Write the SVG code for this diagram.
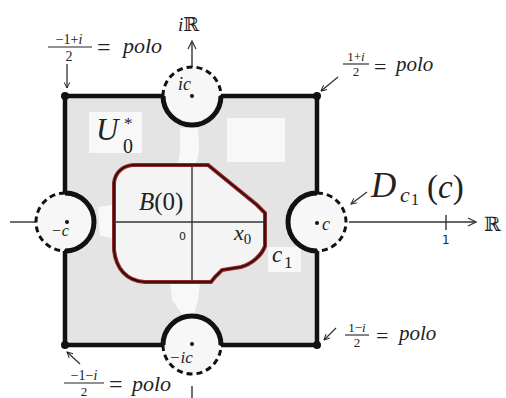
<svg xmlns="http://www.w3.org/2000/svg" width="506" height="398" viewBox="0 0 506 398">
<defs>
<marker id="ah" viewBox="0 0 10 10" refX="9" refY="5" markerWidth="7" markerHeight="7" orient="auto" markerUnits="userSpaceOnUse">
<path d="M1,1 L9,5 L1,9" fill="none" stroke="#222" stroke-width="1.4"/>
</marker>
<marker id="ahb" viewBox="0 0 10 10" refX="9" refY="5" markerWidth="10" markerHeight="10" orient="auto" markerUnits="userSpaceOnUse">
<path d="M1,1 L9,5 L1,9" fill="none" stroke="#333" stroke-width="1.2"/>
</marker>
</defs>
<style>
.m{font-family:"Liberation Serif","DejaVu Serif",serif;font-style:italic;fill:#222}
.r{font-family:"Liberation Serif","DejaVu Serif",serif;fill:#222}
.s{font-family:"DejaVu Sans","Liberation Sans",sans-serif;fill:#222}
.bb{font-family:"DejaVu Serif",serif;fill:#222}
.edge{stroke:#111;stroke-width:4.5;fill:none}
.arc{stroke:#111;stroke-width:5;fill:none}
.dash{stroke:#111;stroke-width:3;fill:none;stroke-dasharray:6 4}
.ax{stroke:#333;stroke-width:1.4;fill:none}
.ar{stroke:#333;stroke-width:1.3;fill:none}
.wp{fill:#f8f8f8;stroke:none}
</style>
<rect width="506" height="398" fill="#fff"/>

<g id="region">
<rect x="65" y="96" width="252" height="249" fill="#e4e4e4"/>
<circle cx="192" cy="96" r="29" fill="#f7f7f7"/>
<circle cx="65" cy="222" r="29" fill="#f7f7f7"/>
<circle cx="317" cy="222" r="29" fill="#f7f7f7"/>
<circle cx="192" cy="345" r="29" fill="#f7f7f7"/>
<rect class="wp" x="89" y="112" width="53" height="41"/>
<rect class="wp" x="227" y="118" width="58" height="44"/>
<path class="wp" d="M180,128 L198,128 L199,150 L196,165 L178,165 L180,150 Z"/>
<path class="wp" d="M170,282 L200,282 L198,300 L194,314 L182,314 L172,300 Z"/>
<path class="wp" d="M98,207 L112,205 L112,238 L100,236 Z"/>
<rect class="wp" x="268" y="247" width="33" height="25"/>
</g>

<g id="connectors">
<path class="ax" d="M10,222 L36,222"/>
<path class="ax" d="M349,222 L476,222" marker-end="url(#ahb)"/>
<path class="ax" d="M446,215 L446,230"/>
<path class="ax" d="M192,67 L192,41" marker-end="url(#ahb)"/>
<path class="ax" d="M192,386 L192,398"/>
<path class="ar" d="M67,64 L67,88" marker-end="url(#ah)"/>
<path class="ar" d="M338,77 L321,91" marker-end="url(#ah)"/>
<path class="ar" d="M336,328 L324,340" marker-end="url(#ah)"/>
<path class="ar" d="M80,364 L67,352" marker-end="url(#ah)"/>
<path class="ar" d="M367,192 L351,204" marker-end="url(#ah)"/>
</g>

<g id="square">
<path class="edge" d="M65,96 L163,96 M221,96 L317,96 L317,193 M317,251 L317,345 L221,345 M163,345 L65,345 L65,251 M65,193 L65,96"/>
<circle cx="65" cy="96" r="4" fill="#111"/>
<circle cx="317" cy="96" r="4" fill="#111"/>
<circle cx="65" cy="345" r="4" fill="#111"/>
<circle cx="317" cy="345" r="4" fill="#111"/>
</g>

<g id="notch-top">
<path class="arc" d="M163,96 A29,29 0 0 0 221,96"/>
<path class="dash" d="M163,96 A29,29 0 0 1 221,96"/>
<circle cx="192" cy="96" r="2" fill="#111"/>
<text class="m" x="178" y="90" font-size="18">ic</text>
</g>
<g id="notch-left">
<path class="arc" d="M65,193 A29,29 0 0 1 65,251"/>
<path class="dash" d="M65,193 A29,29 0 0 0 65,251"/>
<circle cx="67" cy="222" r="2" fill="#111"/>
<text class="m" x="51" y="236" font-size="16">−c</text>
</g>
<g id="notch-right">
<path class="arc" d="M317,193 A29,29 0 0 0 317,251"/>
<path class="dash" d="M317,193 A29,29 0 0 1 317,251"/>
<circle cx="317" cy="223" r="2" fill="#111"/>
<text class="m" x="322" y="230" font-size="18">c</text>
</g>
<g id="notch-bottom">
<path class="arc" d="M163,345 A29,29 0 0 1 221,345"/>
<path class="dash" d="M163,345 A29,29 0 0 0 221,345"/>
<circle cx="192" cy="344" r="2" fill="#111"/>
<text class="m" x="169" y="363" font-size="17">−ic</text>
</g>

<g id="blob">
<path d="M133,165 L208,165 L257,205 L265,213 L265,246 C262,255 252,264 241,267 L222,270 L215,277 L211,282 L145,282 C126,281 116,268 114,250 L114,183 C115,173 122,166 133,165 Z" fill="#f4f4f4" stroke="#9a2a2a" stroke-width="4"/>
<path d="M133,165 L208,165 L257,205 L265,213 L265,246 C262,255 252,264 241,267 L222,270 L215,277 L211,282 L145,282 C126,281 116,268 114,250 L114,183 C115,173 122,166 133,165 Z" fill="none" stroke="#2a0808" stroke-width="1.6"/>
<path class="ax" d="M114,222 L265,222 M192,165 L192,282"/>
<text class="r" x="139" y="210" font-size="25"><tspan font-style="italic">B</tspan>(0)</text>
<text class="s" x="179" y="240" font-size="11">0</text>
<text class="m" x="234" y="240" font-size="22">x<tspan font-style="normal" font-size="15" dy="4">0</tspan></text>
</g>

<g id="labels">
<text class="m" x="96" y="140" font-size="31">U</text>
<text class="r" x="123" y="153" font-size="20">0</text>
<text class="r" x="124" y="129" font-size="17">*</text>
<text class="m" x="272" y="262" font-size="23">c</text>
<text class="r" x="284" y="268" font-size="17">1</text>
<text class="m" x="371" y="197" font-size="35">D</text>
<text class="m" x="400" y="202" font-size="22">c</text>
<text class="r" x="411" y="205" font-size="16">1</text>
<text class="r" x="427" y="198" font-size="33">(<tspan font-style="italic">c</tspan>)</text>
<text class="bb" x="178" y="31" font-size="19"><tspan font-family="Liberation Serif" font-style="italic">i</tspan>ℝ</text>
<text class="bb" x="484" y="231" font-size="20">ℝ</text>
<text class="s" x="442" y="244" font-size="12">1</text>
</g>

<g id="pole-tl">
<text class="r" x="69" y="44" font-size="14" text-anchor="middle">−1+<tspan font-style="italic">i</tspan></text>
<path d="M48,47 L92,47" stroke="#222" stroke-width="1.2"/>
<text class="r" x="69" y="61" font-size="14" text-anchor="middle">2</text>
<text class="r" x="97" y="55" font-size="24">=</text>
<text class="m" x="123" y="53" font-size="22">polo</text>
</g>
<g id="pole-tr">
<text class="r" x="356" y="61" font-size="13" text-anchor="middle">1+<tspan font-style="italic">i</tspan></text>
<path d="M343,64 L369,64" stroke="#222" stroke-width="1.1"/>
<text class="r" x="356" y="76" font-size="13" text-anchor="middle">2</text>
<text class="r" x="374" y="74" font-size="22">=</text>
<text class="m" x="396" y="71" font-size="21">polo</text>
</g>
<g id="pole-br">
<text class="r" x="357" y="332" font-size="13" text-anchor="middle">1−<tspan font-style="italic">i</tspan></text>
<path d="M345,335 L369,335" stroke="#222" stroke-width="1.1"/>
<text class="r" x="357" y="347" font-size="13" text-anchor="middle">2</text>
<text class="r" x="376" y="343" font-size="22">=</text>
<text class="m" x="399" y="340" font-size="21">polo</text>
</g>
<g id="pole-bl">
<text class="r" x="84" y="380" font-size="14" text-anchor="middle">−1−<tspan font-style="italic">i</tspan></text>
<path d="M64,383 L104,383" stroke="#222" stroke-width="1.2"/>
<text class="r" x="84" y="396" font-size="13" text-anchor="middle">2</text>
<text class="r" x="109" y="392" font-size="24">=</text>
<text class="m" x="132" y="391" font-size="22">polo</text>
</g>
</svg>
